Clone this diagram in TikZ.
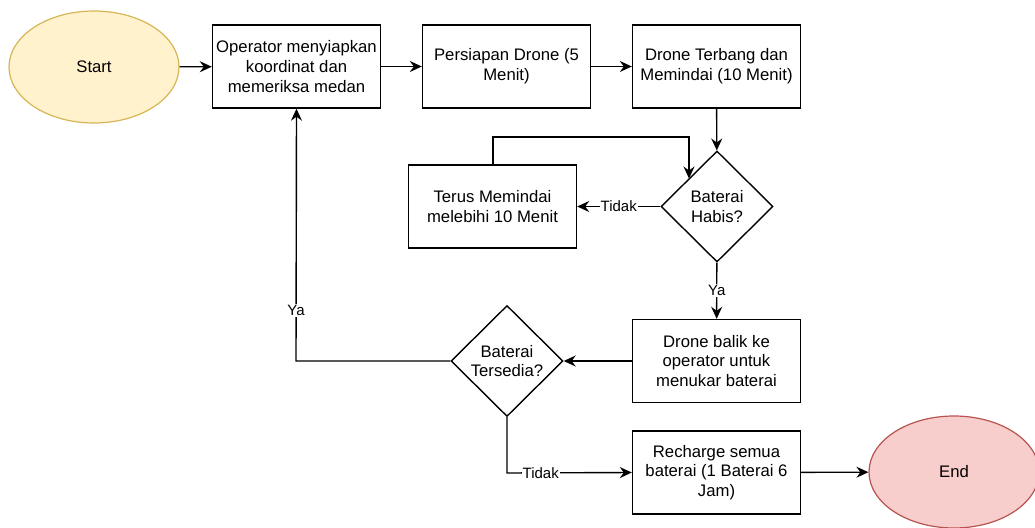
\documentclass[tikz,border=0pt]{standalone}
\usepackage{fontspec}
\setmainfont{Liberation Sans}
\usetikzlibrary{shapes.geometric,arrows.meta}
\definecolor{startfill}{HTML}{FFF2CC}
\definecolor{startline}{HTML}{D6B656}
\definecolor{endfill}{HTML}{F8CECC}
\definecolor{endline}{HTML}{B85450}
\tikzset{
  box/.style={draw=black, line width=1.4pt, minimum width=168pt, minimum height=83pt, inner sep=0pt, align=center, font=\fontsize{16.7}{19.8}\selectfont},
  dia/.style={draw=black, line width=1.4pt, diamond, minimum width=112pt, minimum height=111pt, inner sep=0pt, align=center, font=\fontsize{16.7}{19.8}\selectfont},
  term/.style={ellipse, line width=1.2pt, minimum width=170pt, minimum height=112pt, inner sep=0pt, font=\fontsize{16.7}{19.8}\selectfont},
  conn/.style={line width=1.4pt, -{Stealth[length=12pt,width=11pt,inset=4pt]}},
  lbl/.style={fill=white, inner sep=1pt, font=\fontsize{15}{18}\selectfont}
}
\begin{document}
\begin{tikzpicture}[x=1pt,y=-1pt]
\useasboundingbox (0,0) rectangle (1035,527);
\node[term, fill=startfill, draw=startline] (start) at (94,67) {Start};
\node[box] (op) at (296.5,66.5) {Operator menyiapkan\\koordinat dan\\memeriksa medan};
\node[box] (prep) at (506.5,66.5) {Persiapan Drone (5\\Menit)};
\node[box] (fly) at (716.5,66.5) {Drone Terbang dan\\Memindai (10 Menit)};
\node[dia] (habis) at (717,206.5) {Baterai\\Habis?};
\node[box] (terus) at (492.5,206.5) {Terus Memindai\\melebihi 10 Menit};
\node[box] (balik) at (716.5,361) {Drone balik ke\\operator untuk\\menukar baterai};
\node[dia] (sedia) at (507,361) {Baterai\\Tersedia?};
\node[box] (rech) at (716.5,472.5) {Recharge semua\\baterai (1 Baterai 6\\Jam)};
\node[term, fill=endfill, draw=endline] (end) at (954,472) {End};
\coordinate (loopA) at (493,137);
\coordinate (loopB) at (689,137);
\coordinate (yaC) at (296,361);
\coordinate (tdC) at (507,473);

\draw[conn] (start) -- (op);
\draw[conn] (op) -- (prep);
\draw[conn] (prep) -- (fly);
\draw[conn] (fly) -- (habis);
\draw[conn] (habis) -- node[lbl] (l1) {Tidak} (terus);
\draw[conn] (terus.north -| loopA) -- (loopA) -- (loopB) -- (689,178.5);
\draw[conn] (habis) -- node[lbl] (l2) {Ya} (balik);
\draw[conn] (balik) -- (sedia);
\draw[conn] (sedia.west) -- (yaC) -- node[lbl, pos=0.2] (l3) {Ya} (op.south);
\draw[conn] (sedia.south) -- (tdC) -- node[lbl, pos=0.27] (l4) {Tidak} (rech.west);
\draw[conn] (rech) -- (end);
\end{tikzpicture}
\end{document}
